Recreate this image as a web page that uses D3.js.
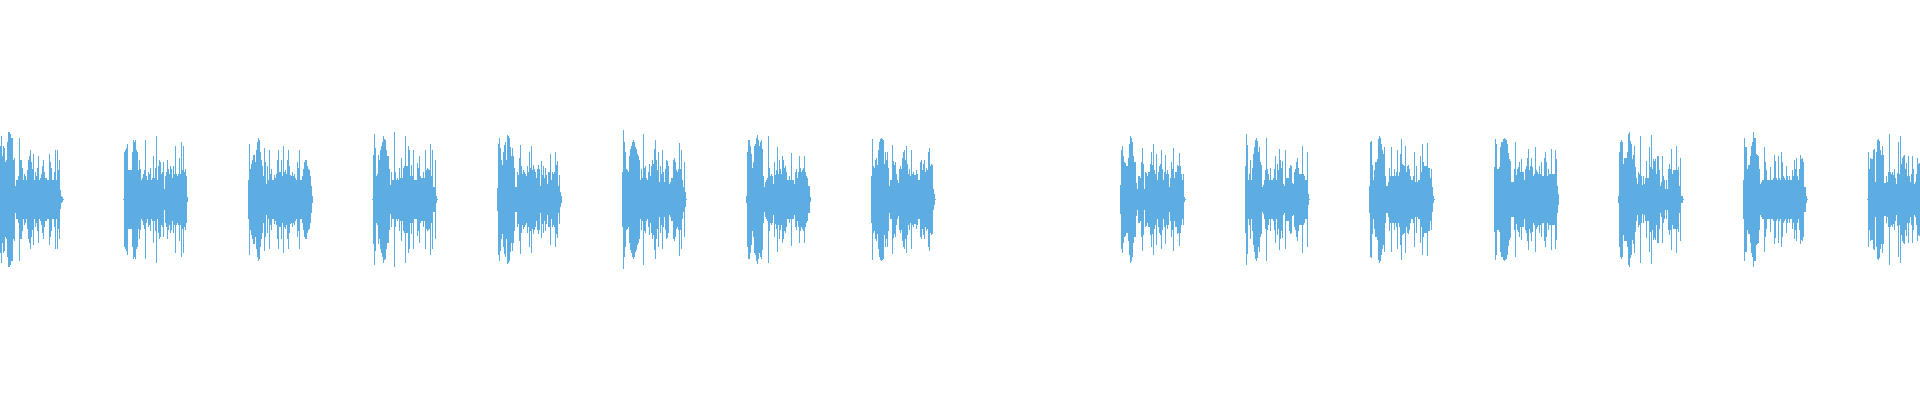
<!DOCTYPE html>
<html>
<head>
<meta charset="utf-8">
<script src="https://cdn.jsdelivr.net/npm/d3@7"></script>
<style>
    html, body { margin: 0; padding: 0; background: #ffffff; }
    #wave { display: block; }
</style>
</head>
<body>
<div id="row1"></div>
<script>

// waveform peaks, one value per bin (abs peak, full scale = 1)
const totalBins = 1920;

// first bin of every burst (the 9th one is silent)
const burstStarts = [-1, 123, 248, 372, 497, 622, 746, 871, 1120, 1245, 1369, 1494, 1618, 1743, 1867];

const burst01 = [.005, .27, .32, .22, .27, .26, .19, .2, .29, .34, .34, .33, .31, .31, .2, .21, .07, .1, .1, .12, .31, .2, .2, .16, .1, .13, .12, .1, .15, .2, .22, .25, .19, .155, .23, .1, .14, .12, .16, .22, .1, .11, .13, .17, .2, .14, .11, .11, .1, .1, .23, .19, .16, .1, .1, .14, .25, .1, .25, .15, .2, .05, .02, .015, .005];
const burst02 = [.005, .24, .25, .26, .28, .15, .15, .15, .15, .24, .3, .29, .3, .25, .24, .15, .2, .155, .1, .11, .13, .15, .3, .12, .1, .14, .13, .16, .1, .11, .22, .11, .16, .32, .1, .17, .2, .19, .13, .14, .19, .055, .12, .14, .2, .155, .13, .17, .155, .11, .17, .13, .27, .13, .12, .13, .21, .13, .29, .15, .27, .14, .155, .12, .015];
const burst03 = [.1, .28, .155, .18, .2, .225, .225, .19, .25, .29, .31, .3, .24, .2, .17, .12, .26, .19, .08, .17, .1, .25, .13, .155, .1, .1, .125, .11, .13, .2, .25, .14, .14, .2, .12, .27, .14, .15, .13, .2, .25, .17, .125, .12, .14, .12, .13, .11, .1, .19, .16, .25, .1, .1, .12, .155, .19, .2, .2, .17, .155, .15, .12, .07, .02];
const burst04 = [.005, .225, .33, .26, .12, .13, .225, .2, .25, .27, .29, .32, .305, .3, .25, .22, .22, .155, .075, .14, .1, .1, .34, .14, .1, .11, .1, .16, .11, .21, .11, .16, .17, .32, .17, .17, .27, .25, .12, .175, .12, .25, .1, .1, .1, .185, .16, .22, .12, .11, .11, .14, .11, .25, .15, .16, .155, .15, .28, .12, .25, .065, .065, .2, .02, .005];
const burst05 = [.06, .28, .31, .26, .2, .175, .24, .275, .29, .2, .325, .32, .31, .265, .22, .26, .22, .16, .065, .065, .14, .125, .21, .275, .17, .13, .15, .14, .13, .12, .17, .14, .24, .16, .27, .15, .175, .155, .14, .11, .155, .175, .155, .07, .195, .125, .17, .11, .16, .125, .08, .14, .14, .23, .1, .14, .13, .14, .24, .175, .195, .07, .125, .04, .02];
const burst06 = [.14, .35, .29, .24, .155, .15, .14, .22, .255, .27, .29, .3, .29, .265, .255, .23, .22, .2, .1, .155, .11, .33, .16, .17, .11, .1, .14, .18, .12, .17, .2, .18, .255, .3, .2, .15, .24, .09, .17, .13, .25, .14, .09, .155, .2, .195, .17, .08, .09, .11, .11, .2, .21, .19, .15, .14, .155, .285, .155, .25, .1, .065, .19, .04, .005];
const burst07 = [.02, .24, .3, .3, .27, .23, .16, .19, .27, .28, .31, .325, .3, .27, .29, .3, .255, .12, .065, .09, .1, .11, .32, .16, .12, .13, .12, .08, .19, .125, .15, .265, .13, .2, .155, .13, .22, .2, .16, .17, .14, .1, .1, .12, .1, .235, .1, .1, .08, .14, .155, .11, .14, .22, .16, .14, .15, .16, .22, .14, .12, .11, .07, .07, .015];
const burst08 = [.12, .305, .17, .16, .2, .21, .175, .25, .29, .305, .31, .305, .3, .18, .24, .2, .24, .16, .07, .1, .1, .275, .195, .175, .19, .13, .1, .085, .155, .17, .155, .21, .24, .25, .2, .27, .18, .13, .155, .12, .25, .13, .14, .125, .125, .15, .13, .1, .1, .19, .2, .15, .18, .2, .14, .16, .15, .24, .26, .17, .18, .175, .055, .03, .005];
const burst10 = [.075, .25, .27, .22, .19, .185, .17, .17, .21, .28, .32, .31, .29, .22, .19, .19, .085, .055, .12, .12, .11, .19, .26, .18, .055, .14, .135, .12, .14, .14, .18, .24, .175, .28, .15, .13, .23, .1, .14, .17, .18, .25, .155, .1, .14, .225, .13, .15, .13, .065, .11, .19, .155, .26, .11, .14, .14, .175, .17, .235, .17, .13, .1, .13, .015, .005];
const burst11 = [.17, .33, .275, .1, .13, .2, .1, .16, .23, .265, .3, .31, .295, .24, .265, .19, .175, .065, .075, .1, .15, .31, .155, .13, .1, .16, .1, .1, .11, .155, .22, .1, .18, .15, .255, .2, .16, .195, .08, .07, .25, .11, .11, .11, .16, .175, .17, .085, .08, .14, .155, .19, .21, .16, .13, .13, .13, .27, .13, .12, .1, .1, .24, .03, .005];
const burst12 = [.07, .29, .295, .175, .1, .15, .19, .19, .205, .305, .32, .31, .28, .25, .23, .265, .12, .07, .07, .09, .16, .12, .265, .12, .12, .155, .12, .14, .25, .12, .14, .23, .305, .18, .175, .17, .27, .14, .17, .175, .155, .12, .1, .1, .12, .24, .09, .17, .09, .1, .1, .22, .14, .28, .19, .17, .17, .17, .285, .16, .16, .11, .155, .065, .02, .005];
const burst13 = [.165, .305, .28, .155, .155, .165, .265, .29, .29, .305, .31, .305, .3, .28, .235, .205, .195, .09, .09, .09, .155, .29, .125, .155, .165, .19, .14, .205, .14, .14, .1, .155, .17, .21, .255, .15, .17, .21, .165, .12, .13, .265, .15, .14, .13, .17, .13, .19, .12, .12, .21, .24, .19, .12, .155, .13, .13, .255, .13, .13, .13, .25, .205, .07, .03];
const burst14 = [.02, .24, .29, .3, .29, .18, .21, .21, .21, .24, .33, .34, .295, .28, .205, .225, .27, .165, .11, .08, .14, .13, .32, .12, .075, .12, .08, .11, .195, .11, .11, .265, .165, .325, .155, .205, .195, .205, .13, .22, .22, .15, .07, .09, .22, .12, .1, .055, .1, .055, .155, .18, .155, .255, .13, .15, .15, .15, .27, .15, .165, .07, .21, .02, .02, .005];
const burst15 = [.1, .31, .265, .265, .155, .175, .175, .22, .27, .29, .34, .31, .31, .23, .225, .22, .155, .08, .09, .1, .1, .265, .19, .15, .1, .1, .1, .165, .1, .1, .11, .225, .195, .11, .1, .22, .11, .1, .24, .19, .12, .11, .1, .17, .12, .1, .12, .1, .1, .15, .12, .2, .155, .21, .12, .1, .155, .225, .205, .21, .19, .065, .065, .02, .005];
const burst16 = [.005, .24, .155, .21, .205, .205, .25, .255, .09, .24, .3, .305, .295, .25, .225, .27, .225, .085, .085, .12, .09, .14, .33, .14, .13, .14, .125, .155, .11, .08, .135, .29, .13, .32, .18, .21, .22, .225, .155, .185, .12, .22, .12, .09, .13, .22, .155, .08, .09, .13, .21, .18, .185];

const bursts = [burst01, burst02, burst03, burst04, burst05, burst06, burst07, burst08, burst10, burst11, burst12, burst13, burst14, burst15, burst16];

const waveColor = "#5dade2";



function drawWaveform() {

    var width = 1920;
    var height = 400;

    var svg = d3.select("#row1")
        .append("svg")
        .attr("id", "wave")
        .attr("width", width)
        .attr("height", height);

    // flatten bursts into bins
    var peaks = [];

    bursts.forEach(function (values, i) {
        values.forEach(function (v, j) {
            peaks.push({ bin: burstStarts[i] + j, peak: v });
        });
    });

    peaks = peaks.filter(d => d.bin >= 0 && d.bin < totalBins);


    const x = d3.scaleLinear()
        .domain([0, totalBins])
        .range([0, width]);

    const y = d3.scaleLinear()
        .domain([-1, 1])
        .range([399, 0]);


    svg.append("g")
        .attr("class", "peaks")
        .selectAll("rect")
        .data(peaks)
        .enter()
        .append("rect")
        .attr("x", d => x(d.bin))
        .attr("width", x(1) - x(0))
        .attr("y", d => y(d.peak))
        .attr("height", d => Math.max(1, y(-d.peak) - y(d.peak)))
        .attr("fill", waveColor)
        .attr("shape-rendering", "crispEdges");

}


drawWaveform();

</script>
</body>
</html>
